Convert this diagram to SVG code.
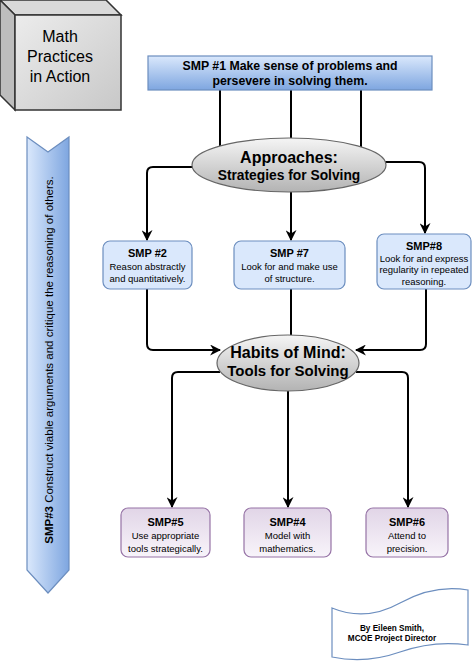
<svg xmlns="http://www.w3.org/2000/svg" width="474" height="667" viewBox="0 0 474 667">
<style>
.cn{fill:none;stroke:#000;stroke-width:2}
.bl{fill:#dae8fc;stroke:#6c8ebf;stroke-width:1.2}
.pu{fill:url(#gPu);stroke:#9673a6;stroke-width:1.2}
.t{font-family:"Liberation Sans",Arial,sans-serif;fill:#000;text-anchor:middle}
.b{font-weight:bold}
.h{font-weight:bold;font-size:11px}
.s{font-size:9.5px}
</style>
<defs>
<linearGradient id="gBlue" x1="0" y1="0" x2="0" y2="1"><stop offset="0" stop-color="#dae8fc"/><stop offset="1" stop-color="#7ea6e0"/></linearGradient>
<linearGradient id="gArrow" x1="0" y1="0" x2="1" y2="0"><stop offset="0" stop-color="#dae8fc"/><stop offset="1" stop-color="#7ea6e0"/></linearGradient>
<linearGradient id="gGray" x1="0" y1="0" x2="0" y2="1"><stop offset="0" stop-color="#f5f5f5"/><stop offset="1" stop-color="#b3b3b3"/></linearGradient>
<linearGradient id="gCube" x1="0" y1="0" x2="1" y2="1"><stop offset="0" stop-color="#ececec"/><stop offset="1" stop-color="#c8c8c8"/></linearGradient>
<linearGradient id="gPu" x1="0" y1="0" x2="0" y2="1"><stop offset="0" stop-color="#e1d5e7"/><stop offset="1" stop-color="#f8f4fa"/></linearGradient>
<marker id="ah" markerUnits="userSpaceOnUse" markerWidth="11" markerHeight="11" viewBox="0 0 10 10" refX="9" refY="5" orient="auto"><path d="M0,0 L10,5 L0,10 L3,5 Z" fill="#000"/></marker>
</defs>
<rect width="474" height="667" fill="#fff"/>

<g id="cube">
<polygon points="0,0 106,0 121,15 15,15" fill="#d9d9d9" stroke="#333" stroke-width="1.5"/>
<polygon points="0,0 15,15 15,110 0,95" fill="#bdbdbd" stroke="#333" stroke-width="1.5"/>
<rect x="15" y="15" width="106" height="95" fill="url(#gCube)" stroke="#333" stroke-width="1.5"/>
<text class="t" x="60" y="42" font-size="16" fill="#222">Math</text>
<text class="t" x="60" y="62" font-size="16" fill="#222">Practices</text>
<text class="t" x="60" y="82" font-size="16" fill="#222">in Action</text>
</g>

<g id="smp3">
<path d="M27,137 L48,152 L69,137 L69,570 L48,593 L27,570 Z" fill="url(#gArrow)" stroke="#6c8ebf" stroke-width="1.2"/>
<text class="t" font-size="11.5" transform="translate(53,360) rotate(-90)"><tspan class="b">SMP#3</tspan> Construct viable arguments and critique the reasoning of others.</text>
</g>

<g id="connectors">
<path class="cn" d="M220,90 L220,146 M291,90 L291,138 M361,90 L361,147"/>
<path class="cn" marker-end="url(#ah)" d="M193,167 L153,167 Q147,167 147,173 L147,240"/>
<path class="cn" marker-end="url(#ah)" d="M291,192 L291,240"/>
<path class="cn" marker-end="url(#ah)" d="M384,162 L419,162 Q425,162 425,168 L425,233"/>
<path class="cn" marker-end="url(#ah)" d="M147,289 L147,344 Q147,350 153,350 L220,350"/>
<path class="cn" d="M291,289 L291,335"/>
<path class="cn" marker-end="url(#ah)" d="M426,289 L426,344 Q426,350 420,350 L356,350"/>
<path class="cn" marker-end="url(#ah)" d="M220,372 L178,372 Q172,372 172,378 L172,507"/>
<path class="cn" marker-end="url(#ah)" d="M288,391 L288,507"/>
<path class="cn" marker-end="url(#ah)" d="M356,372 L402,372 Q408,372 408,378 L408,507"/>
</g>

<g id="smp1">
<rect x="148" y="56" width="284" height="34" fill="url(#gBlue)" stroke="#6c8ebf" stroke-width="1.2"/>
<text class="t b" x="290" y="70" font-size="12.3">SMP #1 Make sense of problems and</text>
<text class="t b" x="290" y="85" font-size="12.3">persevere in solving them.</text>
</g>

<g id="approaches">
<ellipse cx="289" cy="165" rx="97" ry="27" fill="url(#gGray)" stroke="#666" stroke-width="1.2"/>
<text class="t b" x="289" y="163" font-size="16">Approaches:</text>
<text class="t b" x="289" y="180" font-size="13.8">Strategies for Solving</text>
</g>

<g id="smp2">
<rect class="bl" x="103" y="241" width="89" height="48" rx="7"/>
<text class="t h" x="147.5" y="257">SMP #2</text>
<text class="t s" x="147.5" y="270">Reason abstractly</text>
<text class="t s" x="147.5" y="282">and quantitatively.</text>
</g>

<g id="smp7">
<rect class="bl" x="234" y="241" width="111" height="48" rx="7"/>
<text class="t h" x="289.5" y="257">SMP #7</text>
<text class="t s" x="289.5" y="270">Look for and make use</text>
<text class="t s" x="289.5" y="282">of structure.</text>
</g>

<g id="smp8">
<rect class="bl" x="377" y="234" width="94" height="55" rx="7"/>
<text class="t h" x="424" y="250">SMP#8</text>
<text class="t s" x="424" y="261.5">Look for and express</text>
<text class="t s" x="424" y="273">regularity in repeated</text>
<text class="t s" x="424" y="284.5">reasoning.</text>
</g>

<g id="habits">
<ellipse cx="288" cy="363" rx="71" ry="28" fill="url(#gGray)" stroke="#666" stroke-width="1.2"/>
<text class="t b" x="288" y="358" font-size="16">Habits of Mind:</text>
<text class="t b" x="288" y="376" font-size="15">Tools for Solving</text>
</g>

<g id="smp5">
<rect class="pu" x="121" y="508" width="89" height="49" rx="7"/>
<text class="t h" x="165.5" y="526">SMP#5</text>
<text class="t s" x="165.5" y="539">Use appropriate</text>
<text class="t s" x="165.5" y="552">tools strategically.</text>
</g>

<g id="smp4">
<rect class="pu" x="244" y="508" width="87" height="49" rx="7"/>
<text class="t h" x="287.5" y="526">SMP#4</text>
<text class="t s" x="287.5" y="539">Model with</text>
<text class="t s" x="287.5" y="552">mathematics.</text>
</g>

<g id="smp6">
<rect class="pu" x="366" y="508" width="82" height="49" rx="7"/>
<text class="t h" x="407" y="526">SMP#6</text>
<text class="t s" x="407" y="539">Attend to</text>
<text class="t s" x="407" y="552">precision.</text>
</g>

<g id="author">
<path d="M332,608 Q366,622 400,603 T468,590 L468,645 Q434,640 400,652 T332,657 Z" fill="#fff" stroke="#6c8ebf" stroke-width="1.2"/>
<text class="t b" x="392" y="631" font-size="8.2">By Eileen Smith,</text>
<text class="t b" x="392" y="641" font-size="8.2">MCOE Project Director</text>
</g>
</svg>
